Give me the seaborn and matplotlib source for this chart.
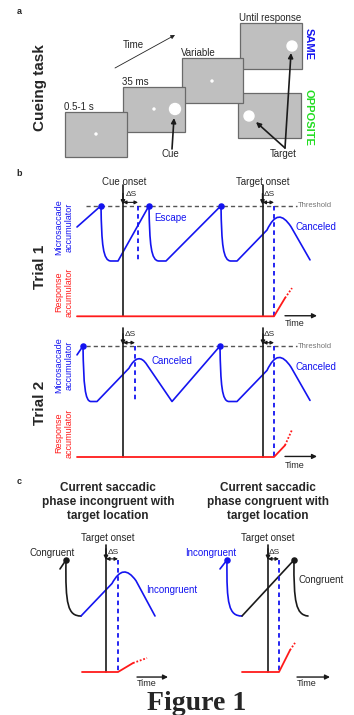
import numpy as np
import pandas as pd
import seaborn as sns
import matplotlib
matplotlib.use("Agg")
import matplotlib.pyplot as plt
from matplotlib.path import Path
from matplotlib.patches import PathPatch, Rectangle, Circle

# ---------------- data ----------------
# Panel a: task frames (screen schematic units)
frame_left = [65, 123, 182, 240, 238]
frame_top = [112, 87, 58, 23, 93]
frame_w = [62, 62, 61, 62, 63]
frame_h = [45, 45, 45, 46, 45]
frame_labels = ["0.5-1 s", "35 ms", "Variable", "Until response", ""]
fix_x = [96, 154, 212]
fix_y = [134, 109, 81]
cue_xy = (175, 109)
target_same_xy = (292, 46)
target_opp_xy = (249, 116)

# Panel b: accumulator traces (time units, level: 1 = threshold, 0 = floor, -1 = response baseline)
trial1_t = [0, 24, 24.6, 26, 34, 41, 72, 72.6, 74, 82, 89, 144, 144.6, 146, 154, 160, 190, 198, 205, 214, 233]
trial1_L = [.615, 1, .30, 0, 0, 0, 1, .30, 0, 0, 0, 1, .30, 0, 0, 0, .56, .86, .86, .62, .02]
trial1_seg = "MLCCCLLCCCLLCCCLLCCCL"
trial1_dots_t = [24, 72, 144]

trial2_t = [0, 6, 6.6, 8, 14, 20, 52, 58, 64, 70, 95, 143, 143.6, 145, 152, 160, 190, 198, 205, 214, 233]
trial2_L = [.84, 1, .30, 0, 0, 0, .60, .80, .83, .66, 0, 1, .30, 0, 0, 0, .56, .86, .86, .62, .02]
trial2_seg = "MLCCCLLCCCLLCCCLLCCCL"
trial2_dots_t = [6, 143]

cue_onset_t = [46, 46]
cue_delta_t = [61, 58]
target_onset_t = [185.5, 186]
target_delta_t = [197, 197]
resp1_t = [0, 197, 208]
resp1_L = [-1, -1, -0.67]
resp1_dot_t = [208, 215]
resp1_dot_L = [-0.67, -0.49]
resp2_t = [0, 197, 208]
resp2_L = [-1, -1, -0.79]
resp2_dot_t = [208, 215]
resp2_dot_L = [-0.79, -0.51]

# Panel c
cL_black_t = [0, 6, 5.2, 8, 21]
cL_black_L = [.84, 1, .20, 0, 0]
cL_black_seg = "MLCCC"
cL_blue_t = [21, 52, 60, 67, 76, 95]
cL_blue_L = [0, .58, .84, .85, .63, 0]
cL_blue_seg = "MLCCCL"
cL_onset, cL_delta = 46, 58
cL_resp_t = [22, 58, 73]
cL_resp_L = [-1, -1, -0.84]
cL_resp_dot_t = [73, 87]
cL_resp_dot_L = [-0.84, -0.75]

cR_blue_t = [0, 7, 6.4, 9, 22]
cR_blue_L = [.84, 1, .20, 0, 0]
cR_blue_seg = "MLCCC"
cR_black_t = [22, 74, 73.6, 76, 88]
cR_black_L = [0, 1, .25, .02, 0]
cR_black_seg = "MLCCC"
cR_onset, cR_delta = 48, 59
cR_resp_t = [22, 59, 70]
cR_resp_L = [-1, -1, -0.61]
cR_resp_dot_t = [70, 75]
cR_resp_dot_L = [-0.61, -0.48]

# ---------------- style ----------------
sns.set_theme(style="white")
plt.rcParams["font.family"] = ["Liberation Sans", "DejaVu Sans"]
BLUE = "#1414f0"
RED = "#ff1a1a"
GREEN = "#22dd22"
W, H = 354, 715
fig = plt.figure(figsize=(W / 100, H / 100), dpi=100)
fig.patch.set_facecolor("white")

bg = fig.add_axes([0, 0, 1, 1])
bg.set_xlim(0, W)
bg.set_ylim(H, 0)
bg.axis("off")


def mk_axes(px0, px1, py0, py1, t0_px, floor_py, scale):
    ax = fig.add_axes([px0 / W, 1 - py1 / H, (px1 - px0) / W, (py1 - py0) / H])
    ax.set_xlim(px0 - t0_px, px1 - t0_px)
    ax.set_ylim((floor_py - py1) / scale, (floor_py - py0) / scale)
    ax.axis("off")
    ax.patch.set_alpha(0)
    return ax


CODES = {"M": Path.MOVETO, "L": Path.LINETO, "C": Path.CURVE4}


def trace(ax, t, L, seg, color, lw=1.2):
    p = Path(np.column_stack([t, L]), [CODES[c] for c in seg])
    ax.add_patch(PathPatch(p, fill=False, edgecolor=color, lw=lw, capstyle="round",
                           joinstyle="round", clip_on=False))


def line(ax, x, y, **kw):
    sns.lineplot(x=x, y=y, ax=ax, sort=False, estimator=None, legend=False, **kw)


def dots(ax, t, L, color):
    sns.scatterplot(x=t, y=L, ax=ax, color=color, s=22, edgecolor=color, linewidth=0,
                    legend=False, zorder=5, clip_on=False)


def down_arrow(ax, t, y0, y1):
    ax.annotate("", xy=(t, y1), xytext=(t, y0),
                arrowprops=dict(arrowstyle="-|>", mutation_scale=6, lw=1.0, color="k",
                                shrinkA=0, shrinkB=0))


def delta_s(ax, t0, t1, y, ytext):
    ax.annotate("", xy=(t1, y), xytext=(t0, y),
                arrowprops=dict(arrowstyle="<|-|>", mutation_scale=5, lw=0.8, color="k",
                                shrinkA=0, shrinkB=0))
    ax.text((t0 + t1) / 2 + 1, ytext, "ΔS", ha="center", va="center", fontsize=6)


def time_arrow(ax, t0, t1, y):
    ax.annotate("", xy=(t1, y), xytext=(t0, y),
                arrowprops=dict(arrowstyle="-|>", mutation_scale=7, lw=1.0, color="k",
                                shrinkA=0, shrinkB=0))


# ---------------- panel a ----------------
for i in range(len(frame_left)):
    z = 10 - i if i < 3 else 5
    bg.add_patch(Rectangle((frame_left[i], frame_top[i]), frame_w[i], frame_h[i],
                           facecolor="#bfbfbf", edgecolor="#6a6a6a", lw=0.9, zorder=z))
    if frame_labels[i]:
        bg.text(frame_left[i] - 1, frame_top[i] - 5, frame_labels[i], fontsize=7,
                ha="left", va="center")
for i in range(len(fix_x)):
    bg.add_patch(Circle((fix_x[i], fix_y[i]), 1.0, color="white", zorder=12))
bg.add_patch(Circle(cue_xy, 5.5, color="white", zorder=12))
bg.add_patch(Circle(target_same_xy, 5.0, color="white", zorder=12))
bg.add_patch(Circle(target_opp_xy, 5.0, color="white", zorder=12))

bg.text(19, 11, "a", fontsize=6.5, fontweight="bold", ha="center", va="center")
bg.text(40, 88, "Cueing task", fontsize=11, fontweight="bold", rotation=90, ha="center", va="center")
bg.text(123, 45, "Time", fontsize=7, ha="left", va="center")
bg.annotate("", xy=(175, 35), xytext=(115, 68),
            arrowprops=dict(arrowstyle="-|>", mutation_scale=6, lw=0.6, color="#222222",
                            shrinkA=0, shrinkB=0))
bg.annotate("", xy=(174, 118), xytext=(172, 149),
            arrowprops=dict(arrowstyle="-|>", mutation_scale=7, lw=1.2, color="k",
                            shrinkA=0, shrinkB=0), zorder=13)
bg.text(170, 154, "Cue", fontsize=7, ha="center", va="center")
bg.annotate("", xy=(291, 53), xytext=(285, 148),
            arrowprops=dict(arrowstyle="-|>", mutation_scale=7, lw=1.2, color="k",
                            shrinkA=0, shrinkB=0), zorder=13)
bg.annotate("", xy=(256, 122), xytext=(285, 148),
            arrowprops=dict(arrowstyle="-|>", mutation_scale=7, lw=1.2, color="k",
                            shrinkA=0, shrinkB=0), zorder=13)
bg.text(283, 154, "Target", fontsize=7, ha="center", va="center")
bg.text(309, 44, "SAME", fontsize=8, fontweight="bold", color=BLUE, rotation=-90,
        ha="center", va="center")
bg.text(309, 117.5, "OPPOSITE", fontsize=8, fontweight="bold", color=GREEN, rotation=-90,
        ha="center", va="center")

# ---------------- panel b ----------------
bg.text(19, 173, "b", fontsize=6.5, fontweight="bold", ha="center", va="center")
trials = [
    dict(ax=mk_axes(60, 340, 178, 332, 77, 261, 55.3), t=trial1_t, L=trial1_L, seg=trial1_seg,
         dots=trial1_dots_t, rt=resp1_t, rL=resp1_L, rdt=resp1_dot_t, rdL=resp1_dot_L, top=1.37,
         d1_bottom=0),
    dict(ax=mk_axes(60, 340, 318, 472, 77, 401.5, 55.5), t=trial2_t, L=trial2_L, seg=trial2_seg,
         dots=trial2_dots_t, rt=resp2_t, rL=resp2_L, rdt=resp2_dot_t, rdL=resp2_dot_L, top=1.32,
         d1_bottom=0),
]
for k, tr in enumerate(trials):
    ax = tr["ax"]
    line(ax, [9, 220], [1, 1], color="#555555", lw=1.0, linestyle=(0, (3, 2.2)))
    ax.text(221, 1, "Threshold", fontsize=5.5, color="#777777", ha="left", va="center")
    trace(ax, tr["t"], tr["L"], tr["seg"], BLUE)
    dots(ax, tr["dots"], [1] * len(tr["dots"]), BLUE)
    for on, de, bot in [(cue_onset_t[k], cue_delta_t[k], 0), (target_onset_t[k], target_delta_t[k], -1)]:
        line(ax, [on, on], [tr["top"], -1], color="k", lw=1.2)
        line(ax, [de, de], [1, bot], color=BLUE, lw=1.3, linestyle=(0, (2.5, 2)))
        down_arrow(ax, on, 1.22, 1.02)
        delta_s(ax, on, de, 1.06, 1.2)
    line(ax, tr["rt"], tr["rL"], color=RED, lw=1.3)
    line(ax, tr["rdt"], tr["rdL"], color=RED, lw=1.3, linestyle=(0, (1, 1)))
    time_arrow(ax, 208, 240, -0.99)

bg.text(124, 182, "Cue onset", fontsize=7, ha="center", va="center")
bg.text(263, 182, "Target onset", fontsize=7, ha="center", va="center")
bg.text(154, 218, "Escape", fontsize=7, color=BLUE, ha="left", va="center")
bg.text(296, 227, "Canceled", fontsize=7, color=BLUE, ha="left", va="center")
bg.text(152, 361, "Canceled", fontsize=7, color=BLUE, ha="left", va="center")
bg.text(295, 367, "Canceled", fontsize=7, color=BLUE, ha="left", va="center")
for y, lab in [(323, "Time"), (465, "Time")]:
    bg.text(295, y, lab, fontsize=6.5, ha="center", va="center")
for yt, ym, yr, lab in [(267, 227, 292, "Trial 1"), (403, 365, 433, "Trial 2")]:
    bg.text(40, yt, lab, fontsize=11, fontweight="bold", rotation=90, ha="center", va="center")
    bg.text(64, ym, "Microsaccade\naccumulator", fontsize=6.5, color=BLUE, rotation=90,
            ha="center", va="center", linespacing=1.25, multialignment="center")
    bg.text(64, yr, "Response\naccumulator", fontsize=6.5, color=RED, rotation=90,
            ha="center", va="center", linespacing=1.25, multialignment="center")

# ---------------- panel c ----------------
bg.text(19, 482, "c", fontsize=6.5, fontweight="bold", ha="center", va="center")
axL = mk_axes(30, 200, 535, 700, 60, 616, 56)
axR = mk_axes(190, 354, 535, 700, 220, 616, 56)

trace(axL, cL_black_t, cL_black_L, cL_black_seg, "k")
trace(axL, cL_blue_t, cL_blue_L, cL_blue_seg, BLUE)
dots(axL, [cL_black_t[1]], [1], "k")
trace(axR, cR_blue_t, cR_blue_L, cR_blue_seg, BLUE)
trace(axR, cR_black_t, cR_black_L, cR_black_seg, "k")
dots(axR, [cR_blue_t[1]], [1], BLUE)
dots(axR, [cR_black_t[1]], [1], "k")

for ax, on, de, rt, rL, rdt, rdL, t0, t1 in [
    (axL, cL_onset, cL_delta, cL_resp_t, cL_resp_L, cL_resp_dot_t, cL_resp_dot_L, 77, 108),
    (axR, cR_onset, cR_delta, cR_resp_t, cR_resp_L, cR_resp_dot_t, cR_resp_dot_L, 77, 110),
]:
    line(ax, [on, on], [1.27, -1], color="k", lw=1.2)
    line(ax, [de, de], [1.0, -1], color=BLUE, lw=1.3, linestyle=(0, (2.5, 2)))
    down_arrow(ax, on, 1.2, 1.0)
    delta_s(ax, on, de, 1.02, 1.14)
    line(ax, rt, rL, color=RED, lw=1.3)
    line(ax, rdt, rdL, color=RED, lw=1.3, linestyle=(0, (1, 1)))
    time_arrow(ax, t0, t1, -1.09)

bg.text(108, 502, "Current saccadic\nphase incongruent with\ntarget location", fontsize=8.5,
        fontweight="bold", ha="center", va="center", linespacing=1.2)
bg.text(268, 502, "Current saccadic\nphase congruent with\ntarget location", fontsize=8.5,
        fontweight="bold", ha="center", va="center", linespacing=1.2)
bg.text(108, 538, "Target onset", fontsize=7, ha="center", va="center")
bg.text(268, 538, "Target onset", fontsize=7, ha="center", va="center")
bg.text(52, 553, "Congruent", fontsize=7, ha="center", va="center")
bg.text(172, 590, "Incongruent", fontsize=7, color=BLUE, ha="center", va="center")
bg.text(211, 553, "Incongruent", fontsize=7, color=BLUE, ha="center", va="center")
bg.text(321, 580, "Congruent", fontsize=7, ha="center", va="center")
bg.text(147, 684, "Time", fontsize=6.5, ha="center", va="center")
bg.text(307, 684, "Time", fontsize=6.5, ha="center", va="center")

bg.text(197, 710, "Figure 1", fontsize=20, fontweight="bold", family=["Liberation Serif", "DejaVu Serif"],
        ha="center", va="baseline")

fig.savefig("out.png", dpi=100, facecolor="white")
